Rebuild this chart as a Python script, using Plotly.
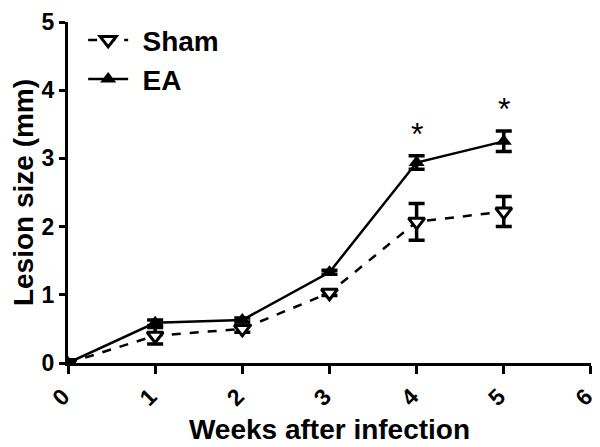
import plotly.graph_objects as go

weeks = [0, 1, 2, 3, 4, 5]
sham_mean = [0.0, 0.40, 0.50, 1.03, 2.07, 2.22]
sham_err = [0.0, 0.12, 0.05, 0.04, 0.27, 0.22]
ea_mean = [0.0, 0.59, 0.63, 1.33, 2.94, 3.25]
ea_err = [0.0, 0.04, 0.03, 0.03, 0.10, 0.15]
sig_weeks = [4, 5]

FONT = "Arial, Liberation Sans, sans-serif"

fig = go.Figure()
fig.add_scatter(
    x=weeks, y=sham_mean, name="\u2004Sham", mode="lines+markers",
    line={"color": "black", "width": 2.5, "dash": "dash"},
    marker={"symbol": "triangle-down", "size": 14, "color": "white",
            "line": {"color": "black", "width": 3}},
    error_y={"type": "data", "array": sham_err, "color": "black", "thickness": 3.5, "width": 8},
    legend="legend",
)
fig.add_scatter(
    x=weeks, y=ea_mean, name="\u2004EA", mode="lines+markers",
    line={"color": "black", "width": 2.5},
    marker={"symbol": "triangle-up", "size": 14, "color": "black"},
    error_y={"type": "data", "array": ea_err, "color": "black", "thickness": 3.5, "width": 8},
    legend="legend2",
)

# significance marks above the EA error bars
for w in sig_weeks:
    i = weeks.index(w)
    fig.add_annotation(x=w, y=ea_mean[i] + ea_err[i], text="*", showarrow=False,
                       yshift=22, font={"family": FONT, "size": 32, "color": "black"})

legend_style = {"x": 0.029, "xanchor": "left", "yanchor": "top",
                "font": {"size": 28, "family": FONT, "weight": "bold"},
                "bgcolor": "rgba(0,0,0,0)", "itemwidth": 40}

# the page body adds an 8px margin, so the figure is a bit smaller than the window
fig.update_layout(
    width=592, height=439,
    margin={"l": 60, "r": 9, "t": 7, "b": 84},
    paper_bgcolor="white", plot_bgcolor="white",
    font={"family": FONT, "color": "black"},
    showlegend=True,
    legend={**legend_style, "y": 1.02},
    legend2={**legend_style, "y": 0.905},
)
fig.update_xaxes(
    range=[0, 6.001], tickvals=[0, 1, 2, 3, 4, 5, 6], tickangle=-45,
    showline=True, linecolor="black", linewidth=3, showgrid=False, zeroline=False,
    ticks="outside", ticklen=8, tickwidth=3, tickcolor="black", automargin=False,
    ticklabeloverflow="allow", ticklabelshift=-5,
    tickfont={"size": 23, "weight": "bold"},
    title={"text": "Weeks after infection", "font": {"size": 28, "weight": "bold"}, "standoff": 10},
)
fig.update_yaxes(
    range=[0, 5], tickvals=[0, 1, 2, 3, 4, 5],
    showline=True, linecolor="black", linewidth=3, showgrid=False, zeroline=False,
    ticks="outside", ticklen=6, tickwidth=3, tickcolor="black", automargin=False,
    tickfont={"size": 23, "weight": "bold"},
    title={"text": "Lesion size (mm)", "font": {"size": 28, "weight": "bold"}, "standoff": 22},
)

fig.write_html("out.html")
